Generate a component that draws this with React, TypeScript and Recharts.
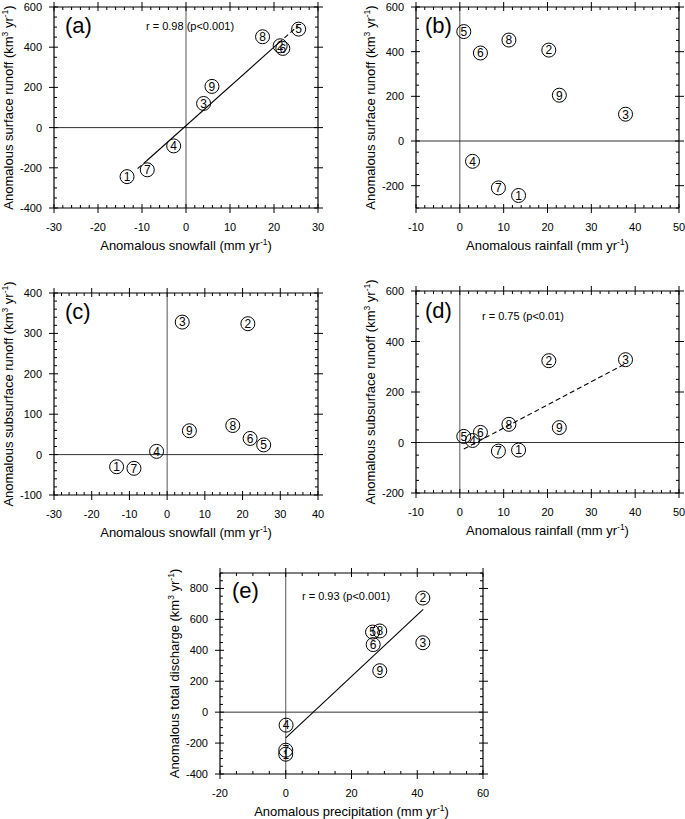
import React from 'react';
import { ScatterChart, Scatter, XAxis, YAxis, ReferenceLine } from 'recharts';

const FONT = '"Liberation Sans", Arial, Helvetica, sans-serif';

// numbered sub-basins
const basinIds = [1, 2, 3, 4, 5, 6, 7, 8, 9];
const snowfall = [-13.4, 21.4, 4.0, -2.8, 25.6, 22.0, -8.8, 17.4, 5.9];
const rainfall = [13.4, 20.3, 37.8, 2.9, 0.9, 4.7, 8.8, 11.2, 22.7];
const precipitation = [0, 41.7, 41.7, 0.1, 26.4, 26.6, 0, 28.6, 28.6];
const surfaceRunoff = [-244, 407, 120, -91, 490, 394, -210, 452, 205];
const subsurfaceRunoff = [-30, 324, 328, 8, 24, 40, -34, 72, 59];
const totalDischarge = [-272, 738, 449, -84, 518, 437, -246, 525, 268];

// regression lines, end points
const fitA: [number, number][] = [[-11, -204], [-9, -166], [21, 420], [25.5, 507]];
const fitADash = [true, false, true];
const fitD: [number, number][] = [[0.9, -26], [38, 314]];
const fitDDash = [true];
const fitE: [number, number][] = [[0, -166], [41.8, 665]];
const fitEDash = [false];

const range = (a: number, b: number, s: number) => {
  const out: number[] = [];
  for (let v = a; v <= b + 1e-9; v += s) out.push(Math.round(v * 1000) / 1000);
  return out;
};

const zip = (xs: number[], ys: number[]) => basinIds.map((id, i) => ({ id, x: xs[i], y: ys[i] }));

type Part = { t: string; sup?: boolean };

const renderParts = (parts: Part[]) => {
  const out: React.ReactNode[] = [];
  let up = false;
  parts.forEach((p, i) => {
    if (p.sup) {
      out.push(<tspan key={i} fontSize={8.5} dy={-5}>{p.t}</tspan>);
      up = true;
    } else {
      out.push(<tspan key={i} dy={up ? 5 : 0}>{p.t}</tspan>);
      up = false;
    }
  });
  return out;
};

const makeTick = (side: string, major: number, labels: boolean) => (p: any) => {
  const { x, y, payload } = p;
  const v = payload.value;
  const isMajor = Math.abs(v / major - Math.round(v / major)) < 1e-6;
  let l: number[];
  if (side === 'bottom') l = isMajor ? [x, y - 4, x, y + 5] : [x, y - 3, x, y];
  else if (side === 'top') l = isMajor ? [x, y - 5, x, y + 4] : [x, y, x, y + 3];
  else if (side === 'left') l = isMajor ? [x - 5, y, x + 4, y] : [x, y, x + 3, y];
  else l = isMajor ? [x - 4, y, x + 5, y] : [x - 3, y, x, y];
  return (
    <g>
      <line x1={l[0]} y1={l[1]} x2={l[2]} y2={l[3]} stroke="#000" strokeWidth={1} />
      {labels && isMajor && side === 'bottom' && (
        <text x={x} y={y + 23} textAnchor="middle" fontSize={11} fontFamily={FONT} fill="#000">{v}</text>
      )}
      {labels && isMajor && side === 'left' && (
        <text x={x - 12} y={y + 4} textAnchor="end" fontSize={11} fontFamily={FONT} fill="#000">{v}</text>
      )}
    </g>
  );
};

const Marker = (p: any) => {
  const { cx, cy, payload } = p;
  return (
    <g>
      <circle cx={cx} cy={cy} r={7} fill="none" stroke="#000" strokeWidth={1} />
      <text x={cx} y={cy + 4.3} textAnchor="middle" fontSize={12} fontFamily={FONT} fill="#000">{payload.id}</text>
    </g>
  );
};

interface PanelProps {
  box: { left: number; top: number; width: number; height: number };
  plot: { left: number; top: number; right: number; bottom: number };
  xDomain: [number, number];
  yDomain: [number, number];
  xMajor: number;
  xMinor: number;
  yMajor: number;
  yMinor: number;
  data: { id: number; x: number; y: number }[];
  tag: string;
  tagPos: [number, number];
  rText?: string;
  rPos?: [number, number];
  xTitle: Part[];
  yTitle: Part[];
  fit?: [number, number][];
  fitDash?: boolean[];
}

const Panel = (props: PanelProps) => {
  const { box, plot, xDomain, yDomain, xMajor, xMinor, yMajor, yMinor, data } = props;
  const margin = {
    left: plot.left - box.left - 1,
    top: plot.top - box.top - 1,
    right: box.left + box.width - plot.right - 1,
    bottom: box.top + box.height - plot.bottom - 1,
  };
  const xTicks = range(xDomain[0], xDomain[1], xMinor);
  const yTicks = range(yDomain[0], yDomain[1], yMinor);
  const frame = { stroke: '#000', strokeWidth: 1.2 };

  const xTitle = (lp: any) => {
    const vb = lp.viewBox;
    return (
      <text x={vb.x + vb.width / 2} y={vb.y + 42} textAnchor="middle" fontSize={13} fontFamily={FONT} fill="#000">
        {renderParts(props.xTitle)}
      </text>
    );
  };
  const yTitle = (lp: any) => {
    const vb = lp.viewBox;
    const cx = vb.x + vb.width - 41;
    const cy = vb.y + vb.height / 2;
    return (
      <text x={cx} y={cy} transform={`rotate(-90, ${cx}, ${cy})`} textAnchor="middle" fontSize={13} fontFamily={FONT} fill="#000">
        {renderParts(props.yTitle)}
      </text>
    );
  };
  const notes = (lp: any) => {
    const vb = lp.viewBox;
    const x0 = vb.x;
    const y0 = vb.y + vb.height;
    return (
      <g>
        <text x={x0 + props.tagPos[0]} y={y0 + props.tagPos[1]} fontSize={22} fontFamily={FONT} fill="#000">{props.tag}</text>
        {props.rText && props.rPos && (
          <text x={x0 + props.rPos[0]} y={y0 + props.rPos[1]} fontSize={11} fontFamily={FONT} fill="#000">{props.rText}</text>
        )}
      </g>
    );
  };

  const segs: React.ReactNode[] = [];
  if (props.fit) {
    for (let i = 0; i < props.fit.length - 1; i++) {
      const a = props.fit[i];
      const b = props.fit[i + 1];
      segs.push(
        <ReferenceLine
          key={'f' + i}
          xAxisId="b"
          yAxisId="l"
          segment={[{ x: a[0], y: a[1] }, { x: b[0], y: b[1] }]}
          stroke="#000"
          strokeWidth={1.1}
          strokeDasharray={props.fitDash && props.fitDash[i] ? '5 3' : undefined}
          ifOverflow="visible"
        />
      );
    }
  }

  return (
    <div style={{ position: 'absolute', left: box.left, top: box.top }}>
      <ScatterChart width={box.width} height={box.height} margin={margin}>
        <XAxis xAxisId="b" orientation="bottom" type="number" dataKey="x" domain={xDomain} allowDataOverflow ticks={xTicks} interval={0}
          height={1} tickSize={0} tickMargin={0} tickLine={false} axisLine={frame} tick={makeTick('bottom', xMajor, true)} label={{ content: xTitle }} />
        <XAxis xAxisId="t" orientation="top" type="number" dataKey="x" domain={xDomain} allowDataOverflow ticks={xTicks} interval={0}
          height={1} tickSize={0} tickMargin={0} tickLine={false} axisLine={frame} tick={makeTick('top', xMajor, false)} label={{ content: notes }} />
        <YAxis yAxisId="l" orientation="left" type="number" dataKey="y" domain={yDomain} allowDataOverflow ticks={yTicks} interval={0}
          width={1} tickSize={0} tickMargin={0} tickLine={false} axisLine={frame} tick={makeTick('left', yMajor, true)} label={{ content: yTitle }} />
        <YAxis yAxisId="r" orientation="right" type="number" dataKey="y" domain={yDomain} allowDataOverflow ticks={yTicks} interval={0}
          width={1} tickSize={0} tickMargin={0} tickLine={false} axisLine={frame} tick={makeTick('right', yMajor, false)} />
        <ReferenceLine xAxisId="b" yAxisId="l" x={0} stroke="#555" strokeWidth={1} />
        <ReferenceLine xAxisId="b" yAxisId="l" y={0} stroke="#333" strokeWidth={1} />
        {segs}
        <Scatter xAxisId="b" yAxisId="l" data={data} shape={Marker} isAnimationActive={false} />
        <Scatter xAxisId="t" yAxisId="r" data={data} shape={() => <g />} isAnimationActive={false} />
      </ScatterChart>
    </div>
  );
};

const snowTitle: Part[] = [{ t: 'Anomalous snowfall (mm yr' }, { t: '-1', sup: true }, { t: ')' }];
const rainTitle: Part[] = [{ t: 'Anomalous rainfall (mm yr' }, { t: '-1', sup: true }, { t: ')' }];
const precTitle: Part[] = [{ t: 'Anomalous precipitation (mm yr' }, { t: '-1', sup: true }, { t: ')' }];
const surfTitle: Part[] = [{ t: 'Anomalous surface runoff (km' }, { t: '3', sup: true }, { t: ' yr' }, { t: '-1', sup: true }, { t: ')' }];
const subTitle: Part[] = [{ t: 'Anomalous subsurface runoff (km' }, { t: '3', sup: true }, { t: ' yr' }, { t: '-1', sup: true }, { t: ')' }];
const totTitle: Part[] = [{ t: 'Anomalous total discharge (km' }, { t: '3', sup: true }, { t: ' yr' }, { t: '-1', sup: true }, { t: ')' }];

export default function App() {
  return (
    <div style={{ position: 'absolute', left: 0, top: 0, width: 685, height: 819, background: '#fff', fontFamily: FONT }}>
      <Panel
        box={{ left: 0, top: 0, width: 340, height: 262 }}
        plot={{ left: 54, top: 7, right: 318, bottom: 208 }}
        xDomain={[-30, 30]} xMajor={10} xMinor={2}
        yDomain={[-400, 600]} yMajor={200} yMinor={50}
        data={zip(snowfall, surfaceRunoff)}
        tag="(a)" tagPos={[11, 26]}
        rText="r = 0.98 (p<0.001)" rPos={[92, 23]}
        xTitle={snowTitle} yTitle={surfTitle}
        fit={fitA} fitDash={fitADash}
      />
      <Panel
        box={{ left: 340, top: 0, width: 345, height: 262 }}
        plot={{ left: 416, top: 7, right: 679, bottom: 208 }}
        xDomain={[-10, 50]} xMajor={10} xMinor={2}
        yDomain={[-300, 600]} yMajor={200} yMinor={50}
        data={zip(rainfall, surfaceRunoff)}
        tag="(b)" tagPos={[9, 26]}
        xTitle={rainTitle} yTitle={surfTitle}
      />
      <Panel
        box={{ left: 0, top: 262, width: 340, height: 290 }}
        plot={{ left: 54, top: 293, right: 318, bottom: 495 }}
        xDomain={[-30, 40]} xMajor={10} xMinor={2}
        yDomain={[-100, 400]} yMajor={100} yMinor={20}
        data={zip(snowfall, subsurfaceRunoff)}
        tag="(c)" tagPos={[11, 26]}
        xTitle={snowTitle} yTitle={subTitle}
      />
      <Panel
        box={{ left: 340, top: 262, width: 345, height: 290 }}
        plot={{ left: 416, top: 291, right: 679, bottom: 493 }}
        xDomain={[-10, 50]} xMajor={10} xMinor={2}
        yDomain={[-200, 600]} yMajor={200} yMinor={50}
        data={zip(rainfall, subsurfaceRunoff)}
        tag="(d)" tagPos={[9, 27]}
        rText="r = 0.75 (p<0.01)" rPos={[66, 29]}
        xTitle={rainTitle} yTitle={subTitle}
        fit={fitD} fitDash={fitDDash}
      />
      <Panel
        box={{ left: 160, top: 552, width: 340, height: 267 }}
        plot={{ left: 220, top: 573, right: 483, bottom: 774 }}
        xDomain={[-20, 60]} xMajor={20} xMinor={5}
        yDomain={[-400, 900]} yMajor={200} yMinor={50}
        data={zip(precipitation, totalDischarge)}
        tag="(e)" tagPos={[12, 25]}
        rText="r = 0.93 (p<0.001)" rPos={[82, 27]}
        xTitle={precTitle} yTitle={totTitle}
        fit={fitE} fitDash={fitEDash}
      />
    </div>
  );
}
